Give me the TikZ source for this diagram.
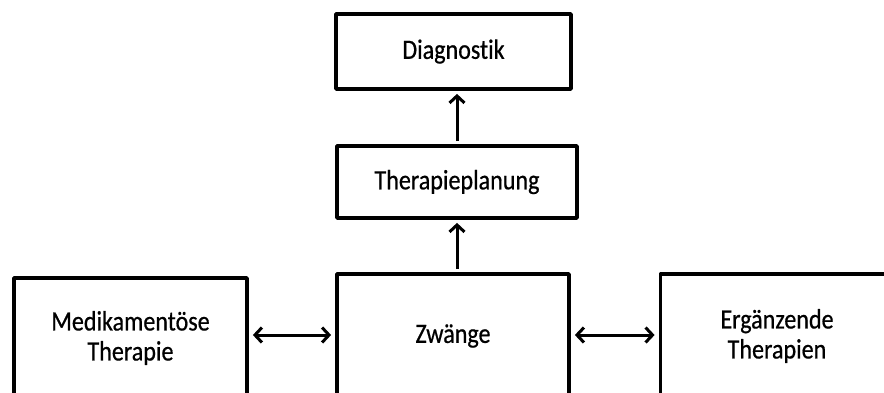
\documentclass[tikz,border=0pt]{standalone}
\usepackage{fontspec}
\setmainfont[FakeStretch=0.86,FakeBold=0.6,Ligatures=NoCommon]{Carlito}
\usetikzlibrary{arrows.meta}
\begin{document}
\begin{tikzpicture}[x=1pt,y=-1pt,
  box/.style={draw=black,line width=3.8pt,line join=round,rectangle,inner sep=0pt,
    font=\fontsize{28}{30}\selectfont,align=center,fill=white},
  conn/.style={line width=3pt,-{Straight Barb[length=7pt,width=15pt,line width=3pt]}},
  dconn/.style={line width=3pt,{Straight Barb[length=7pt,width=15pt,line width=3pt]}-{Straight Barb[length=7pt,width=15pt,line width=3pt]}}]
\useasboundingbox (0,0) rectangle (884,392);
\clip (0,0) rectangle (884,392);
\fill[white] (0,0) rectangle (884,392);
\node[box,minimum width=235pt,minimum height=75pt] (diag) at (453.5,51.5) {Diagnostik};
\node[box,minimum width=240pt,minimum height=72pt] (plan) at (457,182) {Therapieplanung};
\node[box,minimum width=232pt,minimum height=124pt] (zw) at (453,336) {Zwänge};
\node[box,minimum width=233pt,minimum height=120pt] (med) at (130.5,338) {Medikamentöse\\Therapie};
\node[box,minimum width=233pt,minimum height=124pt] (erg) at (777,336) {Ergänzende\\Therapien};
\draw[conn] (zw.north -| 457,0) ++(0,-3) -- ([yshift=-3pt]plan.south -| 457,0);
\draw[conn] ([yshift=3pt]plan.north -| 457,0) -- ([yshift=-3pt]diag.south -| 457,0);
\draw[dconn] ([xshift=4pt]med.east |- 0,335) -- ([xshift=-4pt]zw.west |- 0,335);
\draw[dconn] ([xshift=4pt]zw.east |- 0,335) -- ([xshift=-4pt]erg.west |- 0,335);
\end{tikzpicture}
\end{document}
